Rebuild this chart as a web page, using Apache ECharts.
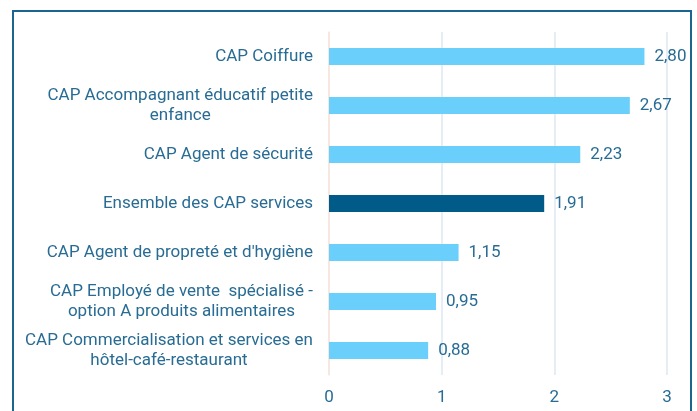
<!DOCTYPE html>
<html>
<head>
<meta charset="utf-8">
<script src="https://cdn.jsdelivr.net/npm/echarts@6/dist/echarts.min.js"></script>
<style>
  html, body { margin: 0; padding: 0; background: #fff; }
  #chart { width: 697px; height: 411px; }
</style>
</head>
<body>
<div id="chart"></div>
<script>
'use strict';

// top to bottom, as in the picture
var categories = [
    'CAP Coiffure',
    'CAP Accompagnant éducatif petite\nenfance',
    'CAP Agent de sécurité',
    'Ensemble des CAP services',
    'CAP Agent de propreté et d\'hygiène',
    'CAP Employé de vente  spécialisé -\noption A produits alimentaires',
    'CAP Commercialisation et services en\nhôtel-café-restaurant'
];
var values = [2.80, 2.67, 2.23, 1.91, 1.15, 0.95, 0.88];
var highlighted = 'Ensemble des CAP services';
var xTicks = [0, 1, 2, 3];

var textColor = '#286c94';
var chart = echarts.init(document.getElementById('chart'));

var barData = values.map(function (v, i) {
    return {
        value: v,
        itemStyle: {
            color: categories[i] === highlighted ? '#005b89' : '#6bcffc'
        }
    };
});

var option = {
    animation: false,
    textStyle: { fontFamily: 'Roboto' },
    graphic: [{
        type: 'rect',
        shape: { x: 13, y: 11, width: 678, height: 420 },
        style: { fill: 'none', stroke: '#1b6691', lineWidth: 2 },
        silent: true
    }],
    grid: {
        left: 329,
        right: 30,
        top: 32,
        bottom: 36
    },
    xAxis: {
        type: 'value',
        min: xTicks[0],
        max: xTicks[xTicks.length - 1],
        interval: 1,
        axisLine: { show: false },
        axisTick: { show: false },
        axisLabel: {
            color: textColor,
            fontSize: 17,
            margin: 14
        },
        splitLine: {
            lineStyle: { color: '#dbe8f1', width: 1.5 }
        }
    },
    yAxis: {
        type: 'category',
        inverse: true,
        data: categories,
        axisLine: {
            lineStyle: { color: '#fce4da', width: 1.5 }
        },
        axisTick: { show: false },
        axisLabel: {
            margin: 16,
            formatter: function (name) {
                return name.split('\n').map(function (line) {
                    return '{c|' + line + '}';
                }).join('\n');
            },
            rich: {
                c: {
                    color: textColor,
                    fontSize: 17,
                    fontFamily: 'Roboto',
                    lineHeight: 20,
                    align: 'center'
                }
            }
        }
    },
    series: [{
        type: 'bar',
        data: barData,
        barWidth: 17,
        label: {
            show: true,
            position: 'right',
            distance: 10,
            color: textColor,
            fontSize: 17,
            formatter: function (p) {
                return p.value.toFixed(2).replace('.', ',');
            }
        }
    }]
};

chart.setOption(option);
</script>
</body>
</html>
